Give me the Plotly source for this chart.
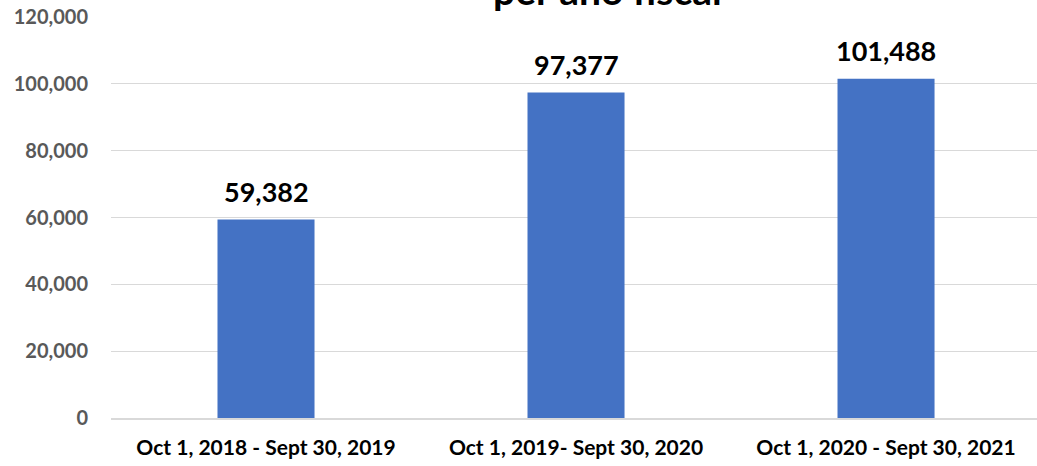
import plotly.graph_objects as go

categories = ["Oct 1, 2018 - Sept 30, 2019", "Oct 1, 2019- Sept 30, 2020", "Oct 1, 2020 - Sept 30, 2021"]
values = [59382, 97377, 101488]
tick_vals = [0, 20000, 40000, 60000, 80000, 100000, 120000]
title_text = "per año fiscal"

FONT = "Lato, Open Sans, sans-serif"

fig = go.Figure(go.Bar(
    x=categories, y=values, width=0.313,
    marker=dict(color="#4472C4", line=dict(width=0)),
))

annotations = [dict(x=c, y=v, xref="x", yref="y", text=f"<b>{v:,}</b>", showarrow=False,
                    xanchor="center", yanchor="bottom", yshift=10,
                    font=dict(family=FONT, size=27, color="#000000"))
               for c, v in zip(categories, values)]
annotations.append(dict(text=f"<b>{title_text}</b>", xref="paper", yref="paper", x=0.536, y=1.0,
                        yshift=2, xanchor="center", yanchor="bottom", showarrow=False,
                        font=dict(family=FONT, size=39, color="#000000")))

fig.update_layout(
    width=1037, height=466,
    margin=dict(l=111, r=0, t=17, b=48),
    paper_bgcolor="white", plot_bgcolor="white",
    showlegend=False,
    xaxis=dict(range=[-0.5, 2.487], showgrid=False, showline=True, linecolor="#d9d9d9", linewidth=1.5,
               tickfont=dict(family=FONT, size=21, color="#000000", weight="bold"),
               ticks="", ticklabelstandoff=10, automargin=False),
    yaxis=dict(range=[0, 120000], tickvals=tick_vals, tickformat=",d",
               showgrid=True, gridcolor="#d9d9d9", gridwidth=1.3, zeroline=False,
               tickfont=dict(family=FONT, size=20, color="#595959", weight="bold"),
               ticks="", ticklabelstandoff=22, automargin=False),
    annotations=annotations,
)

fig.write_html("out.html", config={"displayModeBar": False},
               post_script="document.body.style.margin='0';document.body.style.overflow='hidden';")
